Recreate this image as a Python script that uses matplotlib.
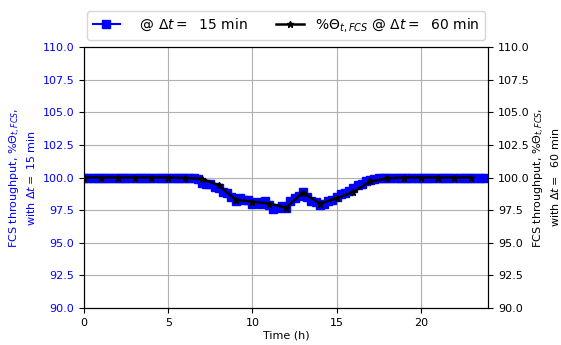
import numpy as np
import matplotlib.pyplot as plt

# 15-min resolution throughput (%), t = 0, 0.25, ..., 23.75 h
t_15 = np.arange(96) / 4.0
theta_15 = [100.0] * 25 + [
    100.0, 99.95, 99.9, 99.6, 99.5, 99.5, 99.3, 99.2, 98.9, 98.8, 98.5,
    98.2, 98.4, 98.3, 98.3, 98.0, 98.1, 98.0, 98.2, 97.9, 97.6, 97.7,
    97.8, 97.7, 98.2, 98.4, 98.6, 98.9, 98.5, 98.2, 98.1, 97.9, 98.0,
    98.2, 98.3, 98.5, 98.7, 98.8, 99.0, 99.2, 99.4, 99.5, 99.7, 99.8,
    99.9, 99.95,
] + [100.0] * 25

# hourly resolution throughput (%)
t_60 = np.arange(24)
theta_60 = [100.0, 100.0, 100.0, 100.0, 100.0, 100.0, 99.96, 99.9, 99.4,
            98.3, 98.15, 98.0, 97.7, 98.85, 98.0, 98.4, 98.9, 99.7, 99.93,
            100.0, 100.0, 100.0, 100.0, 100.0]

plt.rcParams['font.size'] = 8

fig, ax1 = plt.subplots(figsize=(5.61, 3.45), dpi=100)
fig.subplots_adjust(left=0.15, right=0.87, top=0.864, bottom=0.107)
ax2 = ax1.twinx()

l1, = ax1.plot(t_15, theta_15, 's-', color='blue', lw=1.5, ms=5.5,
               label=r'  @ $\Delta t =$  15 min')
l2, = ax2.plot(t_60, theta_60, '*-', color='black', lw=1.8, ms=4.5,
               label=r'$\%\Theta_{t,FCS}$ @ $\Delta t =$  60 min')

for ax in (ax1, ax2):
    ax.set_ylim(90, 110)
    ax.set_yticks(np.arange(90, 110.1, 2.5))
    ax.set_yticklabels([f'{v:.1f}' for v in np.arange(90, 110.1, 2.5)])
ax1.set_xlim(0, 24)
ax1.set_xticks([0, 5, 10, 15, 20])
ax1.grid(True, color='#b0b0b0')
ax1.set_xlabel('Time (h)', labelpad=2)

ax1.set_ylabel('FCS throughput, $\\%\\Theta_{t,FCS}$,\nwith $\\Delta t =$ 15 min',
               color='blue')
ax1.tick_params(axis='y', labelcolor='blue')
ax2.set_ylabel('FCS throughput, $\\%\\Theta_{t,FCS}$,\nwith $\\Delta t =$  60 min',
               labelpad=2)

ax1.legend(handles=[l1, l2], loc='upper center', bbox_to_anchor=(0.5, 1.165),
           ncol=2, fontsize=10)

plt.savefig('out.png', dpi=100)
